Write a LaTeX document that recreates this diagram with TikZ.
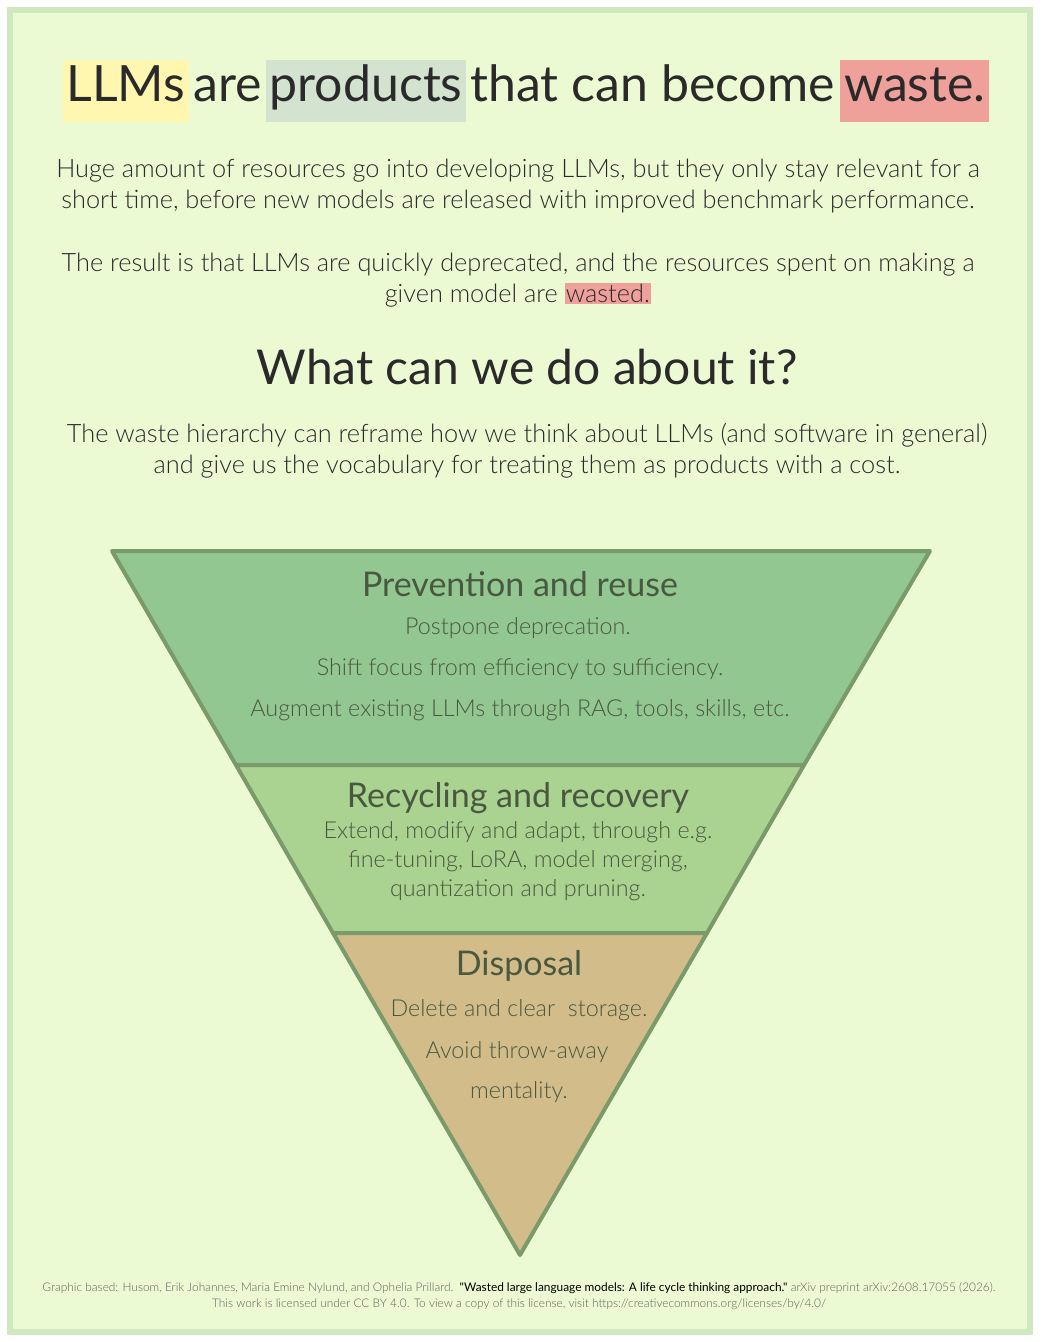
\documentclass[tikz,border=0pt]{standalone}
\usepackage{fontspec}
\setmainfont{Lato Light}[BoldFont=Lato]
\newfontfamily\latoreg{Lato}
\usepackage{xcolor}
\definecolor{bg}{HTML}{ECFAD4}
\definecolor{frame}{HTML}{CFE8BF}
\definecolor{ink}{HTML}{2A2A2A}
\definecolor{tink}{HTML}{4A5840}
\definecolor{hly}{HTML}{FFF6B0}
\definecolor{hlg}{HTML}{D3E3D0}
\definecolor{hlr}{HTML}{F0A09A}
\definecolor{topc}{HTML}{92C792}
\definecolor{midc}{HTML}{AAD291}
\definecolor{botc}{HTML}{D2BC8A}
\definecolor{edge}{HTML}{7B9A6A}
\newcommand{\hlb}[2]{{\setlength{\fboxsep}{3pt}\colorbox{#1}{\strut #2}}}
\begin{document}
\begin{tikzpicture}[x=0.75pt,y=-0.75pt,
  band/.style={draw=edge,line width=3pt,line join=round},
  body/.style={text=ink,font=\fontsize{19}{23.5}\selectfont,align=center},
  thead/.style={text=tink,font=\latoreg\fontsize{25.5}{28}\selectfont},
  ttext/.style={text=tink,font=\fontsize{17.5}{21}\selectfont,align=center}]
\useasboundingbox (0,0) rectangle (1046,1342);
\fill[white] (0,0) rectangle (1046,1342);
\draw[fill=bg,draw=frame,line width=4pt] (10,10) rectangle (1030,1332);
\node[text=ink,font=\latoreg\fontsize{37.5}{40}\selectfont,inner sep=0pt] (title) at (526,91)
 {\hlb{hly}{LLMs}\hspace{3pt}are\hspace{3pt}\hlb{hlg}{products}\hspace{3pt}that can become\hspace{4pt}\hlb{hlr}{waste.}};
\node[body] (p1) at (518,186) {Huge amount of resources go into developing LLMs, but they only stay relevant for a\\ short time, before new models are released with improved benchmark performance.};
\node[body] (p2) at (518,280) {The result is that LLMs are quickly deprecated, and the resources spent on making a\\ given model are {\setlength{\fboxsep}{1pt}\colorbox{hlr}{wasted.}}};
\node[text=ink,font=\latoreg\fontsize{36}{40}\selectfont] (q) at (527,367) {What can we do about it?};
\node[body] (p3) at (527,451) {The waste hierarchy can reframe how we think about LLMs (and software in general)\\ and give us the vocabulary for treating them as products with a cost.};
\coordinate (tl) at (112,551); \coordinate (tr) at (930,551); \coordinate (bt) at (520,1255);
\coordinate (l1) at (236,765); \coordinate (r1) at (804,765);
\coordinate (l2) at (333,933); \coordinate (r2) at (707,933);
\draw[band,fill=topc] (tl) -- (tr) -- (r1) -- (l1) -- cycle;
\draw[band,fill=midc] (l1) -- (r1) -- (r2) -- (l2) -- cycle;
\draw[band,fill=botc] (l2) -- (r2) -- (bt) -- cycle;
\node[thead] (h1) at (520,584) {Prevention and reuse};
\node[ttext] (a1) at (518,628) {Postpone deprecation.};
\node[ttext] (a2) at (520,669) {Shift focus from efficiency to sufficiency.};
\node[ttext] (a3) at (520,710) {Augment existing LLMs through RAG, tools, skills, etc.};
\node[thead] (h2) at (518,798) {Recycling and recovery};
\node[ttext,font=\fontsize{17.5}{22}\selectfont] (b1) at (518,861) {Extend, modify and adapt, through e.g.\\ fine-tuning, LoRA, model merging,\\ quantization and pruning.};
\node[thead] (h3) at (519,966) {Disposal};
\node[ttext] (c1) at (519,1010) {Delete and clear\ \ storage.};
\node[ttext] (c2) at (517,1052) {Avoid throw-away};
\node[ttext] (c3) at (519,1092) {mentality.};
\node[text=ink!75,font=\fontsize{8.9}{12}\selectfont,align=center] (foot) at (519,1296)
 {Graphic based: Husom, Erik Johannes, Maria Emine Nylund, and Ophelia Prillard.\ \ \textcolor{black}{\latoreg"Wasted large language models: A life cycle thinking approach."}\ arXiv preprint arXiv:2608.17055 (2026).\\ This work is licensed under CC BY 4.0. To view a copy of this license, visit https://creativecommons.org/licenses/by/4.0/};
\end{tikzpicture}
\end{document}
